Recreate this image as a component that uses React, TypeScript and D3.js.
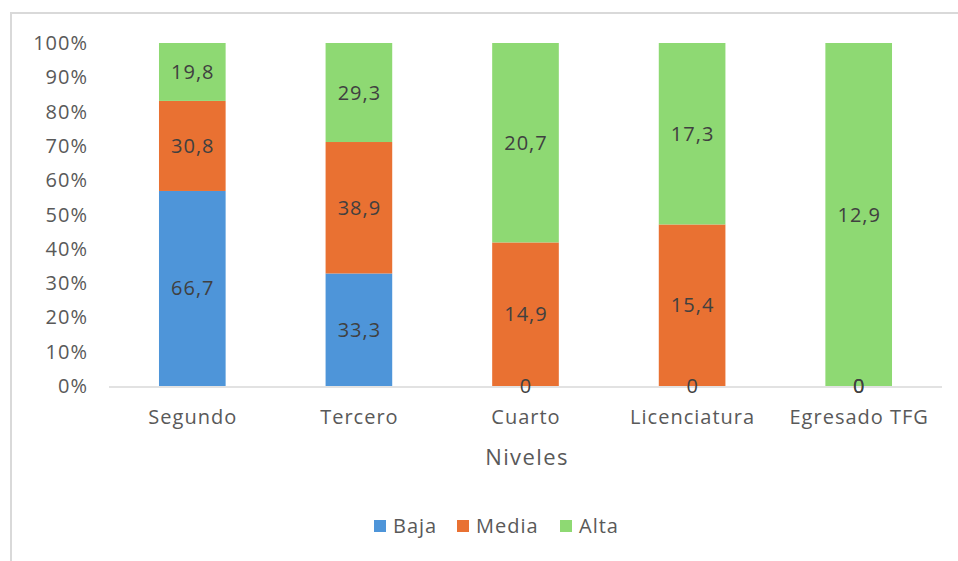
import React from "react";
import * as d3 from "d3";

const categories = ["Segundo", "Tercero", "Cuarto", "Licenciatura", "Egresado TFG"];
const seriesNames = ["Baja", "Media", "Alta"];
const baja = [66.7, 33.3, 0, 0, 0];
const media = [30.8, 38.9, 14.9, 15.4, 0];
const alta = [19.8, 29.3, 20.7, 17.3, 12.9];
const colors = ["#4E95D9", "#E97132", "#8ED973"];
const yTicks = [0, 0.1, 0.2, 0.3, 0.4, 0.5, 0.6, 0.7, 0.8, 0.9, 1];

const W = 958;
const H = 561;
const FONT = "'Open Sans', 'DejaVu Sans', sans-serif";
const LS = 1;

export default function App() {
  const x = d3.scaleBand<string>().domain(categories).range([109, 942]).paddingInner(0.6).paddingOuter(0.3);
  const y = d3.scaleLinear().domain([0, 1]).range([386, 43]);
  const fmt = (v: number) => (v === 0 ? "0" : d3.format(".1f")(v).replace(".", ","));

  const rows = categories.map((c, i) => ({ cat: c, Baja: baja[i], Media: media[i], Alta: alta[i] }));
  const stack = d3.stack<any>().keys(seriesNames).offset(d3.stackOffsetExpand);
  const series = stack(rows);

  const legendX = [374, 457, 560];

  return (
    <svg width={W} height={H} style={{ position: "absolute", left: 0, top: 0, background: "#fff" }} fontFamily={FONT}>
      <rect x={11} y={13} width={975} height={560} fill="#fff" stroke="#d9d9d9" strokeWidth={2} />
      {yTicks.map((t) => (
        <text key={t} x={88} y={y(t)} dy="0.35em" textAnchor="end" fontSize={20} letterSpacing={LS} fill="#595959">
          {d3.format(".0%")(t)}
        </text>
      ))}
      {series.map((s, si) => (
        <g key={s.key}>
          {s.map((d, i) => (
            <rect
              key={i}
              x={x(categories[i])}
              y={y(isNaN(d[1]) ? 0 : d[1])}
              width={x.bandwidth()}
              height={Math.max(0, y(isNaN(d[0]) ? 0 : d[0]) - y(isNaN(d[1]) ? 0 : d[1]))}
              fill={colors[si]}
            />
          ))}
        </g>
      ))}
      <line x1={109} x2={942} y1={387} y2={387} stroke="#d9d9d9" strokeWidth={1.5} />
      {series.map((s, si) => (
        <g key={"l" + s.key}>
          {s.map((d, i) => {
            const v = (rows[i] as any)[s.key] as number;
            const y0 = isNaN(d[0]) ? 0 : d[0];
            const y1 = isNaN(d[1]) ? 0 : d[1];
            return (
              <text
                key={i}
                x={(x(categories[i]) as number) + x.bandwidth() / 2 + LS / 2}
                y={(y(y0) + y(y1)) / 2}
                dy="0.35em"
                textAnchor="middle"
                fontSize={20}
                letterSpacing={LS}
                fill="#404040"
              >
                {fmt(v)}
              </text>
            );
          })}
        </g>
      ))}
      {categories.map((c) => (
        <text key={c} x={(x(c) as number) + x.bandwidth() / 2 + LS / 2} y={417} dy="0.35em" textAnchor="middle" fontSize={20} letterSpacing={LS} fill="#595959">
          {c}
        </text>
      ))}
      <text x={527} y={457} dy="0.35em" textAnchor="middle" fontSize={22} letterSpacing={1.4} fill="#595959">
        Niveles
      </text>
      {seriesNames.map((n, i) => (
        <g key={n}>
          <rect x={legendX[i]} y={520} width={12} height={12} fill={colors[i]} />
          <text x={legendX[i] + 19} y={526} dy="0.35em" fontSize={20} letterSpacing={LS} fill="#595959">
            {n}
          </text>
        </g>
      ))}
    </svg>
  );
}
